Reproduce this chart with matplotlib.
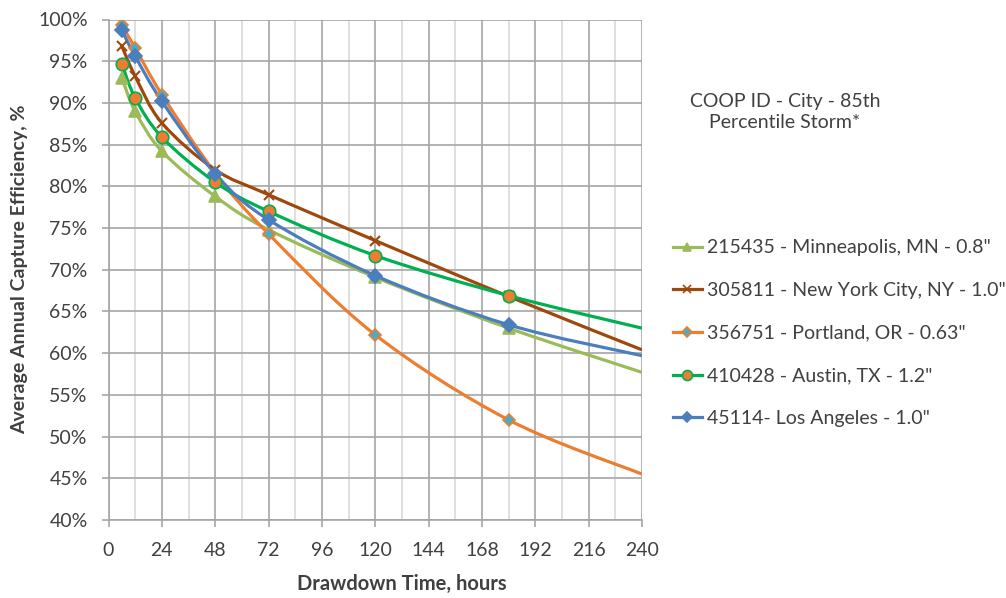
import numpy as np
import matplotlib
matplotlib.use("Agg")
import matplotlib.pyplot as plt
from matplotlib.path import Path
from matplotlib.patches import PathPatch
from matplotlib.lines import Line2D
from matplotlib.ticker import MultipleLocator, FuncFormatter

plt.rcParams['font.family'] = ['Lato', 'DejaVu Sans']

# --- DATA ---
hours = [6, 12, 24, 48, 72, 120, 180, 240]   # last point = line end at axis edge, no marker

minneapolis = [93.0, 89.0, 84.2, 78.8, 74.8, 69.1, 63.0, 57.7]
new_york    = [96.8, 93.2, 87.6, 82.0, 79.0, 73.5, 66.8, 60.4]
portland    = [99.3, 96.6, 91.0, 81.6, 74.3, 62.2, 52.0, 45.5]
austin      = [94.7, 90.6, 85.9, 80.5, 77.0, 71.7, 66.9, 63.0]
los_angeles = [98.7, 95.6, 90.2, 81.5, 76.0, 69.3, 63.4, 59.7]

labels = ['215435 - Minneapolis, MN - 0.8"',
          '305811 - New York City, NY - 1.0"',
          '356751 - Portland, OR - 0.63"',
          '410428 - Austin, TX - 1.2"',
          '45114- Los Angeles - 1.0"']

legend_title = "COOP ID - City - 85th\nPercentile Storm*"

# style per series: line colour, marker, marker face, marker edge, marker size
styles = [
    dict(color='#9BBB59', marker='^', mfc='#9BBB59', mec='#9BBB59', ms=8),
    dict(color='#9E480E', marker='x', mfc='#9E480E', mec='#9E480E', ms=7),
    dict(color='#ED7D31', marker='D', mfc='#4BACC6', mec='#ED7D31', ms=6),
    dict(color='#00B050', marker='o', mfc='#ED7D31', mec='#00B050', ms=9),
    dict(color='#4A7EBD', marker='D', mfc='#4A7EBD', mec='#4A7EBD', ms=7),
]


def smooth_path(xs, ys):
    # Excel-like smoothed line: cubic Bezier through the points (Catmull-Rom control points)
    pts = np.column_stack([xs, ys]).astype(float)
    n = len(pts)
    verts = [pts[0]]
    codes = [Path.MOVETO]
    for i in range(n - 1):
        p0 = pts[i - 1] if i > 0 else pts[i]
        p1 = pts[i]
        p2 = pts[i + 1]
        p3 = pts[i + 2] if i + 2 < n else pts[i + 1]
        c1 = p1 + (p2 - p0) / 6.0
        c2 = p2 - (p3 - p1) / 6.0
        verts += [c1, c2, p2]
        codes += [Path.CURVE4] * 3
    return Path(verts, codes)


fig = plt.figure(figsize=(10.06, 5.98), dpi=100)
ax = fig.add_axes([108.5 / 1006, 78 / 598, 533.5 / 1006, 500.5 / 598])

series = [minneapolis, new_york, portland, austin, los_angeles]
handles = []
for vals, st in zip(series, styles):
    patch = PathPatch(smooth_path(hours, vals), facecolor='none',
                      edgecolor=st['color'], lw=2.3, zorder=3, capstyle='butt')
    ax.add_patch(patch)
    ax.plot(hours[:-1], vals[:-1], linestyle='none', marker=st['marker'],
            markerfacecolor=st['mfc'], markeredgecolor=st['mec'],
            markersize=st['ms'], markeredgewidth=1.2 if st['marker'] != 'x' else 1.5,
            zorder=4)
    handles.append(Line2D([], [], color=st['color'], lw=2.3, marker=st['marker'],
                          markerfacecolor=st['mfc'], markeredgecolor=st['mec'],
                          markersize=st['ms'] * 0.8, markeredgewidth=1.2))

ax.set_xlim(0, 240)
ax.set_ylim(40, 100)
ax.xaxis.set_major_locator(MultipleLocator(24))
ax.xaxis.set_minor_locator(MultipleLocator(12))
ax.yaxis.set_major_locator(MultipleLocator(5))
ax.yaxis.set_major_formatter(FuncFormatter(lambda v, p: f"{v:.0f}%"))

ax.grid(True, which='major', axis='both', color='#A6A6A6', lw=1.2, zorder=0)
ax.grid(True, which='minor', axis='x', color='#D9D9D9', lw=1.2, zorder=0)
ax.set_axisbelow(True)

for s in ['top', 'right']:
    ax.spines[s].set_visible(False)
for s in ['left', 'bottom']:
    ax.spines[s].set_color('#A6A6A6')
    ax.spines[s].set_linewidth(1.2)

ax.tick_params(axis='both', which='major', labelsize=14, colors='#A6A6A6',
               labelcolor='#404040', length=5, width=1.2, direction='out')
ax.tick_params(axis='x', which='minor', length=0)
ax.tick_params(axis='x', pad=11)
ax.tick_params(axis='y', pad=10)

ax.set_xlabel('Drawdown Time, hours', fontsize=14.5, fontweight='bold', color='#404040')
ax.set_ylabel('Average Annual Capture Efficiency, %', fontsize=14,
              fontweight='bold', color='#404040')
ax.xaxis.set_label_coords(0.55, -0.108)
ax.yaxis.set_label_coords(-0.150, 0.5)

fig.text(785 / 1006, 1 - 112 / 598, legend_title, ha='center', va='center',
         fontsize=14, color='#404040', linespacing=1.35)

fig.legend(handles, labels, loc='upper left', bbox_to_anchor=(655 / 1006, 1 - 222 / 598),
           frameon=False, fontsize=14, handlelength=1.5, handletextpad=0.25,
           labelspacing=1.32, labelcolor='#404040')

fig.savefig('out.png', dpi=100)
